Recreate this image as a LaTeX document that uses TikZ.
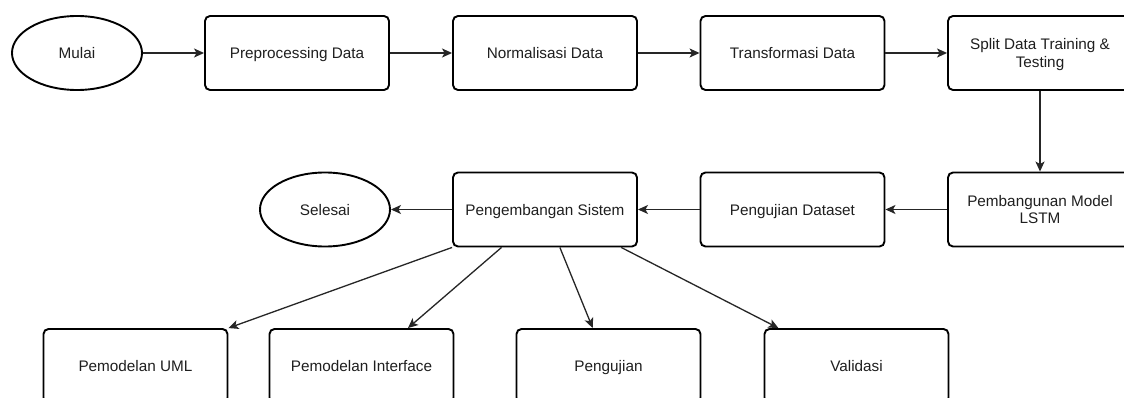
\documentclass[tikz,border=0pt]{standalone}
\usepackage{fontspec}
\setmainfont{Liberation Sans}
\usetikzlibrary{arrows.meta,calc,shapes.geometric}
\begin{document}
\begin{tikzpicture}[x=1pt,y=-1pt,
  every node/.style={font=\fontsize{15.3}{17.5}\selectfont, text=black!88},
  oneline/.style={text height=11pt, text depth=0pt},
  twoline/.style={text height=28.5pt, text depth=0pt},
  stepbox/.style={draw=black, line width=1.9pt, rounded corners=5pt, minimum width=184pt, minimum height=74pt, align=center, inner sep=0pt},
  terminal/.style={draw=black, line width=1.9pt, ellipse, minimum width=130pt, minimum height=74pt, inner sep=0pt, oneline},
  conn/.style={draw=black!85, line width=1.3pt, -{Stealth[length=10pt,width=9pt,inset=2.5pt]}}
]
\useasboundingbox (0,0) rectangle (1124,398);
\clip (0,0) rectangle (1124,398);
\fill[white] (0,0) rectangle (1124,398);
% row 1
\node[terminal] (mulai) at (77,53) {Mulai};
\node[stepbox,oneline] (pre) at (297,53) {Preprocessing Data};
\node[stepbox,oneline] (norm) at (545,53) {Normalisasi Data};
\node[stepbox,oneline] (trans) at (792.5,53) {Transformasi Data};
\node[stepbox,twoline] (split) at (1040,53) {Split Data Training \&\\Testing};
% row 2
\node[stepbox,twoline] (lstm) at (1040,209.5) {Pembangunan Model\\LSTM};
\node[stepbox,oneline] (uji) at (792.5,209.5) {Pengujian Dataset};
\node[stepbox,oneline] (dev) at (545,209.5) {Pengembangan Sistem};
\node[terminal] (sel) at (325,209.5) {Selesai};
% row 3
\node[stepbox,oneline] (uml) at (135.5,366) {Pemodelan UML};
\node[stepbox,oneline] (iface) at (361.5,366) {Pemodelan Interface};
\node[stepbox,oneline] (peng) at (608.5,366) {Pengujian};
\node[stepbox,oneline] (val) at (856.5,366) {Validasi};
% connectors
\draw[conn] (mulai) -- (pre);
\draw[conn] (pre) -- (norm);
\draw[conn] (norm) -- (trans);
\draw[conn] (trans) -- (split);
\draw[conn] (split) -- (lstm);
\draw[conn] (lstm) -- (uji);
\draw[conn] (uji) -- (dev);
\draw[conn] (dev) -- (sel);
\draw[conn] (dev.south west) -- (uml.north east);
\draw[conn] ($(dev.south west)!0.266!(dev.south east)$) -- ($(iface.north west)!0.75!(iface.north east)$);
\draw[conn] ($(dev.south west)!0.58!(dev.south east)$) -- ($(peng.north west)!0.415!(peng.north east)$);
\draw[conn] ($(dev.south west)!0.91!(dev.south east)$) -- ($(val.north west)!0.08!(val.north east)$);
\end{tikzpicture}
\end{document}
